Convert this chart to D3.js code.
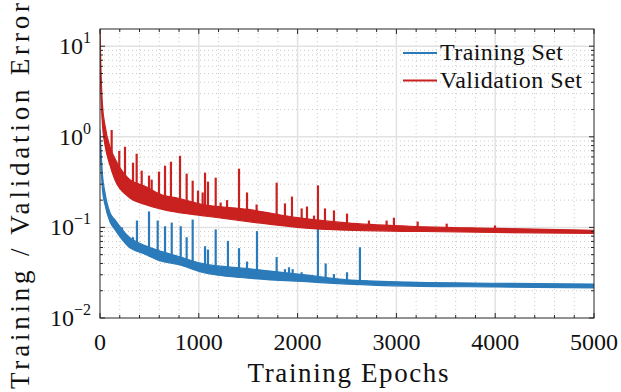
<!DOCTYPE html>
<html>
<head>
<meta charset="utf-8">
<script src="https://cdn.jsdelivr.net/npm/d3@7"></script>
<style>
  html, body { margin: 0; padding: 0; background: #fff; }
  svg { display: block; }
  text { font-family: "Liberation Serif", "DejaVu Serif", serif; fill: #111; }
</style>
</head>
<body>
<svg id="chart" width="621" height="392"></svg>
<script>
// Training error: noise band (lower / upper envelope) sampled at these epochs
const trainEpochs = [0, 10, 25, 50, 100, 150, 285, 455, 630, 790, 1030, 1500, 2125, 2500, 3137, 4000, 5000];
const trainLower  = [1.05, 0.49, 0.26, 0.179, 0.116, 0.095, 0.062, 0.0506, 0.042, 0.039, 0.032, 0.0275, 0.025, 0.0237, 0.0225, 0.022, 0.0215];
const trainUpper  = [1.19, 0.72, 0.38, 0.243, 0.146, 0.122, 0.080, 0.063, 0.054, 0.048, 0.040, 0.035, 0.0295, 0.0264, 0.0249, 0.0242, 0.0237];

// Validation error band
const valEpochs = [0, 10, 25, 50, 100, 150, 285, 455, 630, 790, 1030, 1500, 2000, 2500, 3137, 4000, 5000];
const valLower  = [7.9, 2.9, 1.35, 0.82, 0.49, 0.337, 0.219, 0.179, 0.158, 0.146, 0.135, 0.116, 0.1, 0.093, 0.0906, 0.088, 0.0859];
const valUpper  = [15.7, 5.4, 2.25, 1.35, 0.78, 0.58, 0.35, 0.285, 0.228, 0.21, 0.18, 0.158, 0.128, 0.112, 0.103, 0.0977, 0.093];

// Isolated spikes: epoch and peak error
const trainSpikeEpochs = [223, 334, 374, 496, 584, 658, 726, 817, 877, 938, 1063, 1093, 1171, 1295, 1407, 1488, 1589, 1788, 1872, 1913, 1950, 2041, 2206, 2284, 2368, 2500, 2631, 2699];
const trainSpikeValues = [0.1, 0.078, 0.119, 0.15, 0.119, 0.103, 0.113, 0.103, 0.078, 0.122, 0.062, 0.057, 0.095, 0.071, 0.059, 0.042, 0.091, 0.047, 0.0346, 0.0363, 0.0346, 0.032, 0.1, 0.040, 0.0305, 0.032, 0.0604, 0.026];

const valSpikeEpochs = [51, 118, 195, 253, 334, 371, 422, 496, 523, 597, 658, 718, 810, 877, 938, 992, 1039, 1063, 1093, 1171, 1221, 1286, 1407, 1488, 1585, 1788, 1872, 1943, 2041, 2095, 2166, 2206, 2277, 2368, 2500, 2722, 2901, 2975, 3215, 3509, 3998];
const valSpikeValues = [1.19, 1.19, 0.70, 0.776, 0.518, 0.65, 0.423, 0.373, 0.337, 0.413, 0.48, 0.531, 0.618, 0.392, 0.328, 0.255, 0.243, 0.402, 0.32, 0.354, 0.188, 0.2, 0.445, 0.243, 0.179, 0.312, 0.184, 0.219, 0.162, 0.170, 0.135, 0.291, 0.162, 0.154, 0.142, 0.119, 0.119, 0.128, 0.116, 0.11, 0.105];

const xTicks = [0, 1000, 2000, 3000, 4000, 5000];
const yTicks = [0.01, 0.1, 1, 10];
const yTickExponents = ["−2", "−1", "0", "1"];

const seriesNames = ["Training Set", "Validation Set"];
const seriesColors = ["#2b7bba", "#c9211f"];

const margin = { left: 100, right: 27, top: 29, bottom: 74 };
const W = 621, H = 392;
const svg = d3.select("#chart");

const x = d3.scaleLinear().domain([0, 5000]).range([margin.left, W - margin.right]);
const y = d3.scaleLog().domain([0.01, Math.pow(10, 1.19)]).range([H - margin.bottom, margin.top]);

const x0 = x.range()[0], x1 = x.range()[1];
const yb = y.range()[0], yt = y.range()[1];

// minor positions
const xMinor = d3.range(0, 5001, 200).filter(v => v % 1000 !== 0);
const yMinor = [];
[0.01, 0.1, 1, 10].forEach(d => { for (let k = 2; k <= 9; k++) { const v = d * k; if (v < y.domain()[1]) yMinor.push(v); } });

// grid
const grid = svg.append("g");
grid.selectAll("line.xmin").data(xMinor).join("line")
  .attr("x1", d => x(d)).attr("x2", d => x(d)).attr("y1", yt).attr("y2", yb)
  .attr("stroke", "#bdbdbd").attr("stroke-width", 0.8).attr("stroke-dasharray", "1,3");
grid.selectAll("line.ymin").data(yMinor).join("line")
  .attr("x1", x0).attr("x2", x1).attr("y1", d => y(d)).attr("y2", d => y(d))
  .attr("stroke", "#bdbdbd").attr("stroke-width", 0.8).attr("stroke-dasharray", "1,3");
grid.selectAll("line.xmaj").data(xTicks.slice(1, -1)).join("line")
  .attr("x1", d => x(d)).attr("x2", d => x(d)).attr("y1", yt).attr("y2", yb)
  .attr("stroke", "#e2e2e2").attr("stroke-width", 1.5);
grid.selectAll("line.ymaj").data(yTicks.slice(1)).join("line")
  .attr("x1", x0).attr("x2", x1).attr("y1", d => y(d)).attr("y2", d => y(d))
  .attr("stroke", "#e2e2e2").attr("stroke-width", 1.5);

// data
svg.append("clipPath").attr("id", "plotclip").append("rect")
  .attr("x", x0).attr("y", yt).attr("width", x1 - x0).attr("height", yb - yt);
const plot = svg.append("g").attr("clip-path", "url(#plotclip)");

function drawSeries(epochs, lower, upper, spikeE, spikeV, color) {
  const rows = epochs.map((e, i) => ({ e, lo: lower[i], hi: upper[i] }));
  const band = d3.area().curve(d3.curveMonotoneX)
    .x(d => x(d.e)).y0(d => y(d.lo)).y1(d => y(d.hi));
  plot.append("path").datum(rows).attr("d", band)
    .attr("fill", color).attr("stroke", color).attr("stroke-width", 1.2).attr("stroke-linejoin", "round");
  // band centre at each spike epoch (geometric mean of the envelopes)
  const mid = e => {
    const i = d3.bisectRight(epochs, e) - 1;
    const j = Math.min(i + 1, epochs.length - 1);
    const t = j === i ? 0 : (e - epochs[i]) / (epochs[j] - epochs[i]);
    const lo = Math.log10(lower[i]) * (1 - t) + Math.log10(lower[j]) * t;
    const hi = Math.log10(upper[i]) * (1 - t) + Math.log10(upper[j]) * t;
    return Math.pow(10, (lo + hi) / 2);
  };
  plot.selectAll(null).data(spikeE.map((e, i) => ({ e, v: spikeV[i] }))).join("line")
    .attr("x1", d => x(d.e)).attr("x2", d => x(d.e))
    .attr("y1", d => y(mid(d.e))).attr("y2", d => y(d.v))
    .attr("stroke", color).attr("stroke-width", 2.2);
}
drawSeries(trainEpochs, trainLower, trainUpper, trainSpikeEpochs, trainSpikeValues, seriesColors[0]);
drawSeries(valEpochs, valLower, valUpper, valSpikeEpochs, valSpikeValues, seriesColors[1]);

// box and ticks
const axisColor = "#262626";
svg.append("rect").attr("x", x0).attr("y", yt).attr("width", x1 - x0).attr("height", yb - yt)
  .attr("fill", "none").attr("stroke", axisColor).attr("stroke-width", 1);
const ticks = svg.append("g").attr("stroke", axisColor).attr("stroke-width", 1);
xTicks.forEach(d => {
  ticks.append("line").attr("x1", x(d)).attr("x2", x(d)).attr("y1", yb).attr("y2", yb - 5);
  ticks.append("line").attr("x1", x(d)).attr("x2", x(d)).attr("y1", yt).attr("y2", yt + 5);
});
xMinor.forEach(d => {
  ticks.append("line").attr("x1", x(d)).attr("x2", x(d)).attr("y1", yb).attr("y2", yb - 3);
  ticks.append("line").attr("x1", x(d)).attr("x2", x(d)).attr("y1", yt).attr("y2", yt + 3);
});
yTicks.forEach(d => {
  ticks.append("line").attr("x1", x0).attr("x2", x0 + 5).attr("y1", y(d)).attr("y2", y(d));
  ticks.append("line").attr("x1", x1).attr("x2", x1 - 5).attr("y1", y(d)).attr("y2", y(d));
});
yMinor.forEach(d => {
  ticks.append("line").attr("x1", x0).attr("x2", x0 + 3).attr("y1", y(d)).attr("y2", y(d));
  ticks.append("line").attr("x1", x1).attr("x2", x1 - 3).attr("y1", y(d)).attr("y2", y(d));
});

// tick labels
svg.selectAll("text.xt").data(xTicks).join("text")
  .attr("x", d => x(d)).attr("y", yb + 32).attr("text-anchor", "middle")
  .attr("font-size", 24).text(d => d);
yTicks.forEach((d, i) => {
  const t = svg.append("text").attr("x", x0 - 9).attr("y", y(d) + 8)
    .attr("text-anchor", "end").attr("font-size", 24);
  t.append("tspan").text("10");
  t.append("tspan").attr("dy", -11).attr("font-size", 16).text(yTickExponents[i]);
});

// axis titles
svg.append("text").attr("x", 348).attr("y", 382).attr("text-anchor", "middle")
  .attr("font-size", 27).attr("textLength", 201).attr("lengthAdjust", "spacing")
  .text("Training Epochs");
svg.append("text").attr("transform", "translate(29,196) rotate(-90)").attr("text-anchor", "middle")
  .attr("font-size", 27).attr("textLength", 386).attr("lengthAdjust", "spacing")
  .text("Training / Validation Error");

// legend
const legendWidths = [123, 142];
const lg = svg.append("g");
seriesNames.forEach((name, i) => {
  const ly = 53 + i * 27.5;
  lg.append("line").attr("x1", 403).attr("x2", 437).attr("y1", ly).attr("y2", ly)
    .attr("stroke", seriesColors[i]).attr("stroke-width", 2);
  lg.append("text").attr("x", 440).attr("y", ly + 7).attr("font-size", 24)
    .attr("textLength", legendWidths[i]).attr("lengthAdjust", "spacing").text(name);
});
</script>
</body>
</html>
